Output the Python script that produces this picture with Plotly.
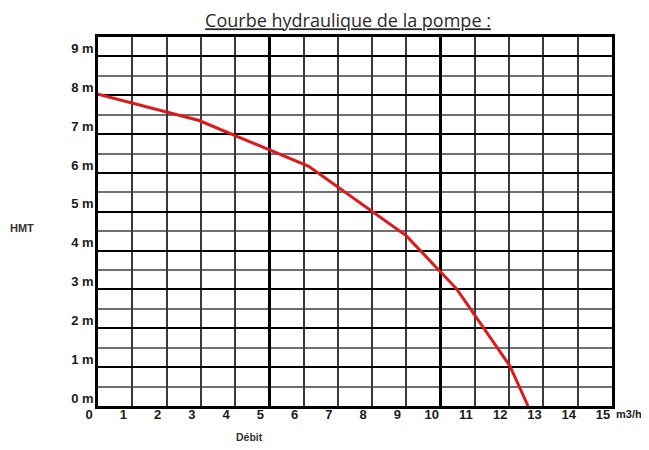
import plotly.graph_objects as go

# Data
debit = [0.0, 2.95, 6.15, 9.0, 10.47, 12.02, 12.55]
hmt = [8.03, 7.35, 6.17, 4.38, 3.01, 1.03, 0.0]
x_ticks = list(range(0, 16))
x_ticktext = [str(v) for v in x_ticks]
y_ticks = list(range(0, 10))
y_ticktext = [f"{v} m" for v in y_ticks]

# page body has an 8px margin, so the figure is a bit smaller and offset
OFF = 8
W, H = 649 - OFF, 450 - 2 * OFF
ml, mr, mt = 98 - OFF, 37, 37 - OFF
mb = H - (406 - OFF)
PW, PH = W - ml - mr, H - mt - mb


def px_x(px):  # page pixel -> paper x
    return (px - OFF - ml) / PW


def px_y(py):  # page pixel -> paper y
    return (H - mb - (py - OFF)) / PH


tickfont = dict(family="Liberation Sans, Arial", size=13, color="#1a1a1a", weight=700)

fig = go.Figure()
fig.add_trace(go.Scatter(x=debit, y=hmt, mode="lines",
                         line=dict(color="#e0181c", width=3),
                         hoverinfo="skip", showlegend=False))
# invisible helper trace so the overlay axis (heavy grid every 5) is drawn
fig.add_trace(go.Scatter(x=debit, y=hmt, mode="lines", xaxis="x2",
                         line=dict(color="rgba(0,0,0,0)", width=0),
                         hoverinfo="skip", showlegend=False))

fig.update_layout(
    width=W, height=H,
    margin=dict(l=ml, r=mr, t=mt, b=mb),
    paper_bgcolor="white", plot_bgcolor="white",
    title=dict(text="<u>Courbe hydraulique de la pompe :</u>",
               x=(348 - OFF) / W, xanchor="center", xref="container",
               y=1 - (21 - OFF) / H, yanchor="middle", yref="container",
               font=dict(family="Open Sans, Noto Sans", size=18, color="#2a2a2a")),
    xaxis=dict(range=[0, 15], tickvals=x_ticks, ticktext=x_ticktext,
               showgrid=True, gridcolor="#3a3a3a", gridwidth=1.5,
               showline=True, linecolor="black", linewidth=2.5, mirror=True,
               ticks="", tickfont=tickfont, ticklabelshift=-9,
               ticklabelstandoff=-5,
               zeroline=False, fixedrange=True),
    xaxis2=dict(range=[0, 15], overlaying="x", dtick=5, tick0=0,
                showgrid=True, gridcolor="black", gridwidth=2.5,
                showticklabels=False, ticks="", showline=False,
                zeroline=False, fixedrange=True),
    yaxis=dict(range=[0, 9.5], tickvals=y_ticks, ticktext=y_ticktext,
               showgrid=True, gridcolor="black", gridwidth=2.2,
               minor=dict(dtick=0.5, tick0=0, showgrid=True,
                          gridcolor="#707070", gridwidth=1.5, ticks=""),
               showline=True, linecolor="black", linewidth=2.5, mirror=True,
               ticks="", tickfont=tickfont, ticklabelshift=-8,
               ticklabelstandoff=-1,
               zeroline=False, fixedrange=True),
    annotations=[
        dict(text="<b>m3/h</b>", xref="paper", yref="paper", x=1, y=px_y(414),
             xanchor="left", yanchor="middle", xshift=2, showarrow=False,
             font=dict(family="Liberation Sans, Arial", size=11, color="#1a1a1a")),
        dict(text="<b>HMT</b>", xref="paper", yref="paper",
             x=px_x(8), y=px_y(228),
             xanchor="left", yanchor="middle", showarrow=False,
             font=dict(family="Liberation Sans, Arial", size=11, color="#333333")),
        dict(text="<b>Débit</b>", xref="paper", yref="paper",
             x=px_x(249), y=px_y(437),
             xanchor="center", yanchor="middle", showarrow=False,
             font=dict(family="Liberation Sans, Arial", size=10.5, color="#333333")),
    ],
)

fig.write_html("out.html")
